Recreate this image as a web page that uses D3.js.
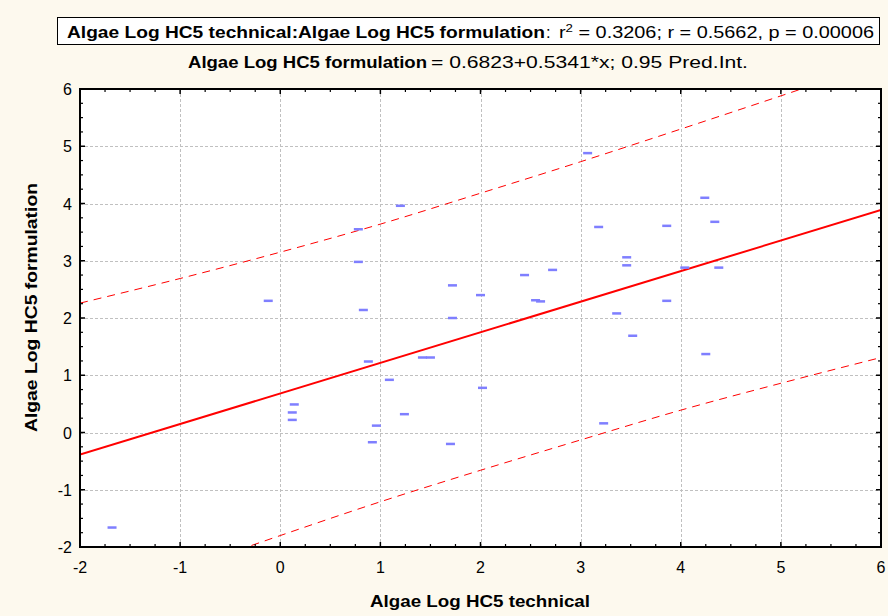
<!DOCTYPE html>
<html>
<head>
<meta charset="utf-8">
<script src="https://cdn.jsdelivr.net/npm/d3@7"></script>
<style>
  html, body { margin: 0; padding: 0; background: #fdf9ee; }
  svg { display: block; font-family: "Liberation Sans", Arial, sans-serif; }
</style>
</head>
<body>
<div id="chart"></div>
<script>
// 数据点 (technical, formulation)
const techX = [-1.68, -0.12, 0.14, 0.12, 0.12, 0.78, 0.78, 0.83, 1.20, 1.72, 1.72, 2.00, 2.44, 2.72, 2.55, 2.60,
  3.07, 3.18, 4.24, 3.86, 4.34, 3.46, 3.46, 4.04, 4.38, 3.86, 3.36, 0.88, 1.42, 1.50, 1.09, 2.02,
  1.24, 0.96, 0.92, 1.70, 3.23, 3.52, 4.25];
const formY = [-1.66, 2.30, 0.49, 0.35, 0.22, 3.55, 2.98, 2.14, 3.96, 2.57, 2.00, 2.40, 2.75, 2.84, 2.31, 2.29,
  4.88, 3.59, 4.10, 3.61, 3.68, 3.06, 2.92, 2.88, 2.88, 2.30, 2.08, 1.24, 1.31, 1.31, 0.92, 0.78,
  0.32, 0.12, -0.17, -0.20, 0.16, 1.69, 1.37];

// 回归系数
const intercept = 0.6823;
const slope = 0.5341;

// 预测区间
const piX = [-2, -1, 0, 1, 2, 3, 4, 5, 6];
const piUpper = [2.26, 2.69, 3.15, 3.64, 4.18, 4.73, 5.30, 5.88, 6.47];
const piLower = [-3.04, -2.41, -1.80, -1.21, -0.66, -0.13, 0.39, 0.86, 1.31];

const xTicks = [-2, -1, 0, 1, 2, 3, 4, 5, 6];
const yTicks = [-2, -1, 0, 1, 2, 3, 4, 5, 6];

const W = 888, H = 616;
const m = {left: 80, right: 7, top: 89, bottom: 69};

const svg = d3.select("#chart").append("svg")
  .attr("width", W).attr("height", H);

const x = d3.scaleLinear().domain([-2, 6]).range([m.left, W - m.right]);
const y = d3.scaleLinear().domain([-2, 6]).range([H - m.bottom, m.top]);

// 绘图区背景
svg.append("rect")
  .attr("x", x(-2)).attr("y", y(6))
  .attr("width", x(6) - x(-2)).attr("height", y(-2) - y(6))
  .attr("fill", "#fff");

svg.append("clipPath").attr("id", "clip")
  .append("rect")
  .attr("x", x(-2)).attr("y", y(6))
  .attr("width", x(6) - x(-2)).attr("height", y(-2) - y(6));

// 网格线
const grid = svg.append("g").attr("stroke", "#c0c0c0").attr("stroke-dasharray", "3,2").attr("stroke-width", 1);
grid.selectAll(".gx").data(xTicks.slice(1, -1)).join("line")
  .attr("x1", d => Math.round(x(d)) + 0.5).attr("x2", d => Math.round(x(d)) + 0.5)
  .attr("y1", y(6)).attr("y2", y(-2));
grid.selectAll(".gy").data(yTicks.slice(1, -1)).join("line")
  .attr("y1", d => Math.round(y(d)) + 0.5).attr("y2", d => Math.round(y(d)) + 0.5)
  .attr("x1", x(-2)).attr("x2", x(6));

const plot = svg.append("g").attr("clip-path", "url(#clip)");

// 预测区间
const piLine = d3.line().curve(d3.curveMonotoneX);
plot.append("path")
  .attr("d", piLine(piX.map((d, i) => [x(d), y(piUpper[i])])))
  .attr("fill", "none").attr("stroke", "#ff0000").attr("stroke-width", 1)
  .attr("stroke-dasharray", "8,6");
plot.append("path")
  .attr("d", piLine(piX.map((d, i) => [x(d), y(piLower[i])])))
  .attr("fill", "none").attr("stroke", "#ff0000").attr("stroke-width", 1)
  .attr("stroke-dasharray", "8,6");

// 回归线
plot.append("line")
  .attr("x1", x(-2)).attr("y1", y(intercept + slope * -2))
  .attr("x2", x(6)).attr("y2", y(intercept + slope * 6))
  .attr("stroke", "#ff0000").attr("stroke-width", 2);

// 数据点 (短横线)
plot.append("g").selectAll("rect")
  .data(techX.map((d, i) => [d, formY[i]]))
  .join("rect")
  .attr("x", d => x(d[0]) - 4.5)
  .attr("y", d => y(d[1]) - 1.25)
  .attr("width", 9).attr("height", 2.5)
  .attr("fill", "#7f7fff");

// 坐标轴 (刻度朝内)
const minorVals = d3.range(-2, 6.001, 0.25).filter(v => Math.abs(v - Math.round(v)) > 1e-6);
const axisG = svg.append("g").attr("stroke", "#000");
// 底部和顶部
[[y(-2), -1], [y(6), 1]].forEach(([yy, dir]) => {
  axisG.selectAll(null).data(xTicks).join("line")
    .attr("x1", d => x(d)).attr("x2", d => x(d))
    .attr("y1", yy).attr("y2", yy + dir * 5).attr("stroke-width", 1.5);
  axisG.selectAll(null).data(minorVals).join("line")
    .attr("x1", d => x(d)).attr("x2", d => x(d))
    .attr("y1", yy).attr("y2", yy + dir * 3).attr("stroke-width", 1.2);
});
// 左侧和右侧
[[x(-2), 1], [x(6), -1]].forEach(([xx, dir]) => {
  axisG.selectAll(null).data(yTicks).join("line")
    .attr("y1", d => y(d)).attr("y2", d => y(d))
    .attr("x1", xx).attr("x2", xx + dir * 5).attr("stroke-width", 1.5);
  axisG.selectAll(null).data(minorVals).join("line")
    .attr("y1", d => y(d)).attr("y2", d => y(d))
    .attr("x1", xx).attr("x2", xx + dir * 3).attr("stroke-width", 1.2);
});
svg.append("rect")
  .attr("x", x(-2)).attr("y", y(6))
  .attr("width", x(6) - x(-2)).attr("height", y(-2) - y(6))
  .attr("fill", "none").attr("stroke", "#000").attr("stroke-width", 2);

// 刻度标签
svg.append("g").selectAll("text").data(xTicks).join("text")
  .attr("x", x).attr("y", y(-2) + 26)
  .attr("text-anchor", "middle").attr("font-size", 16).attr("fill", "#000")
  .text(d => d);
svg.append("g").selectAll("text").data(yTicks).join("text")
  .attr("x", x(-2) - 8).attr("y", d => y(d) + 6)
  .attr("text-anchor", "end").attr("font-size", 16).attr("fill", "#000")
  .text(d => d);

// 轴标题
svg.append("text")
  .attr("x", 370).attr("y", 607)
  .attr("font-size", 16.5).attr("font-weight", "bold")
  .attr("textLength", 220).attr("lengthAdjust", "spacingAndGlyphs")
  .text("Algae Log HC5 technical");
svg.append("text")
  .attr("transform", "translate(37,432) rotate(-90)")
  .attr("font-size", 16.5).attr("font-weight", "bold")
  .attr("textLength", 249).attr("lengthAdjust", "spacingAndGlyphs")
  .text("Algae Log HC5 formulation");

// 标题框
svg.append("rect")
  .attr("x", 57.5).attr("y", 17.5).attr("width", 822).attr("height", 27)
  .attr("fill", "#fff").attr("stroke", "#000").attr("stroke-width", 1);
svg.append("text")
  .attr("x", 67).attr("y", 38).attr("font-size", 16.5).attr("font-weight", "bold")
  .attr("textLength", 478).attr("lengthAdjust", "spacingAndGlyphs")
  .text("Algae Log HC5 technical:Algae Log HC5 formulation");
svg.append("text")
  .attr("x", 546).attr("y", 38).attr("font-size", 16.5).text(":");
const t1 = svg.append("text")
  .attr("x", 559).attr("y", 38).attr("font-size", 16.5)
  .attr("textLength", 315).attr("lengthAdjust", "spacingAndGlyphs");
t1.append("tspan").text("r");
t1.append("tspan").attr("dy", -6).attr("font-size", 11).text("2");
t1.append("tspan").attr("dy", 6).text(" = 0.3206;  r = 0.5662, p = 0.00006");

svg.append("text")
  .attr("x", 188).attr("y", 68).attr("font-size", 16.5).attr("font-weight", "bold")
  .attr("textLength", 239).attr("lengthAdjust", "spacingAndGlyphs")
  .text("Algae Log HC5 formulation");
svg.append("text")
  .attr("x", 431).attr("y", 68).attr("font-size", 16.5)
  .attr("textLength", 317).attr("lengthAdjust", "spacingAndGlyphs")
  .text("= 0.6823+0.5341*x; 0.95 Pred.Int.");
</script>
</body>
</html>
